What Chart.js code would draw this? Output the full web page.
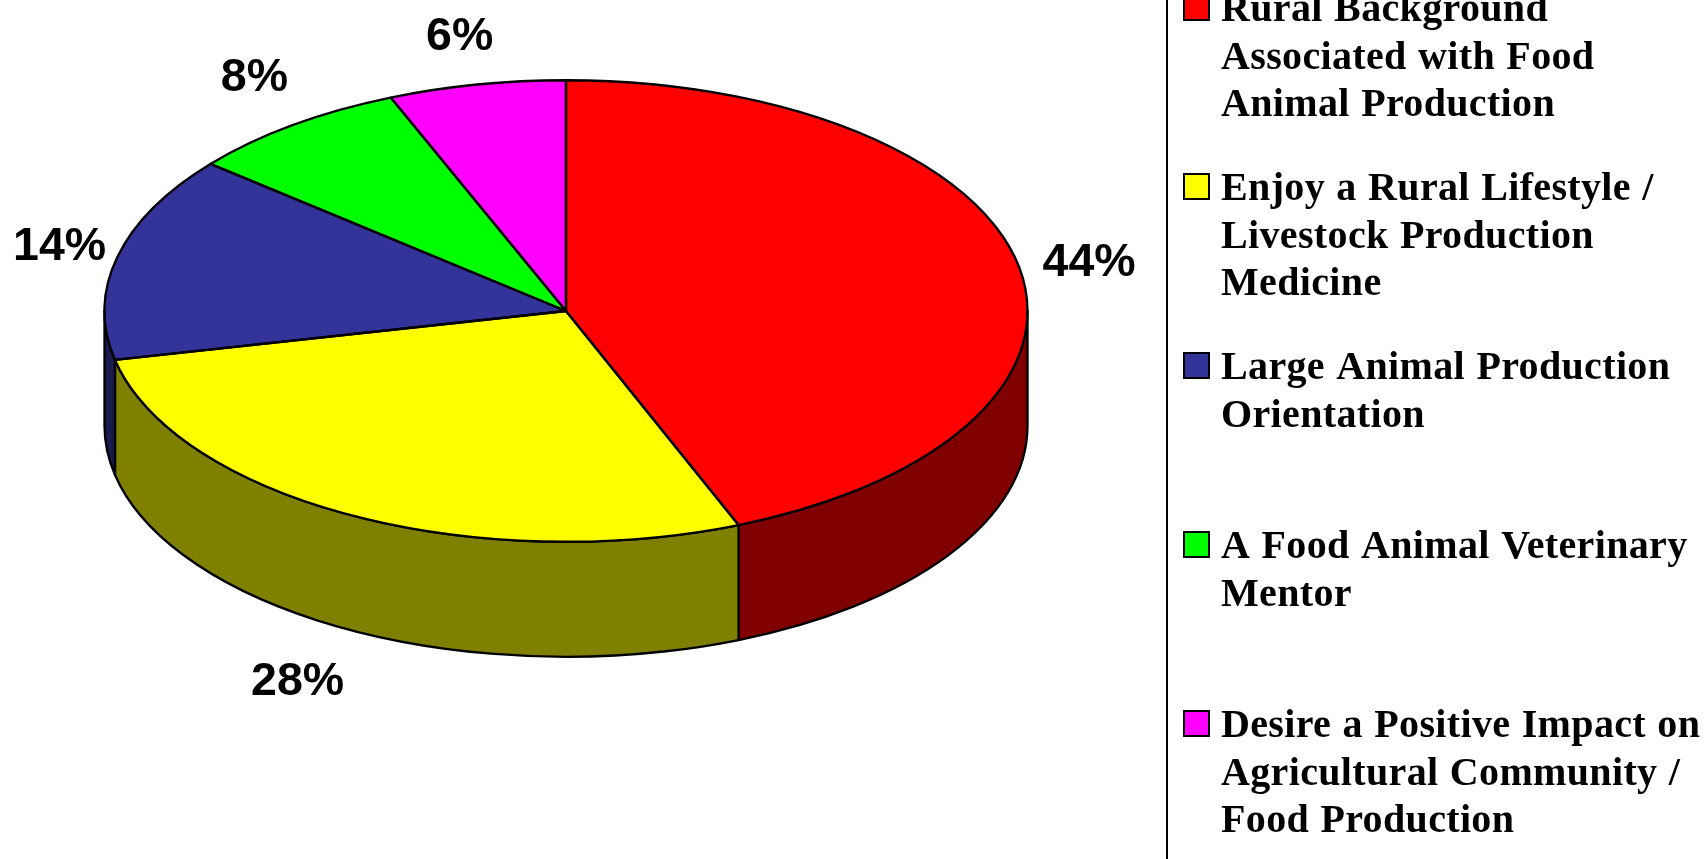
<!DOCTYPE html>
<html><head><meta charset="utf-8">
<style>html,body{margin:0;padding:0;background:#fff;overflow:hidden}#w{position:absolute;left:0;top:0;width:1707px;height:859px}</style>
<script src="https://cdn.jsdelivr.net/npm/chart.js@4"></script>
</head><body><div id="w"><canvas id="c" width="1707" height="859"></canvas></div>
<script>
const categories=[
 ["Rural Background","Associated with Food","Animal Production"],
 ["Enjoy a Rural Lifestyle /","Livestock Production","Medicine"],
 ["Large Animal Production","Orientation"],
 ["A Food Animal Veterinary","Mentor"],
 ["Desire a Positive Impact on","Agricultural Community /","Food Production"]
];
const values=[43.9,27.7,14.4,7.8,6.2];
const percentLabels=["44%","28%","14%","8%","6%"];
const topColors=["#FF0000","#FFFF00","#333399","#00FF00","#FF00FF"];
const wallColors=["#800000","#808000","#1A1A4D","#008000","#800080"];
const labelOffsets=[[70,-4],[-52.5,167],[-58,-9],[-38,-47],[-17,-47]];
const TILT=0.5, DEPTH=115, STROKE=2.3;

const pie3d={
 id:'pie3d',
 beforeDatasetsDraw(chart){
  const ctx=chart.ctx, arcs=chart.getDatasetMeta(0).data;
  const {x:cx,y:cy,outerRadius:r}=arcs[0], ry=r*TILT;
  ctx.save(); ctx.lineWidth=STROKE; ctx.strokeStyle='#000'; ctx.lineJoin='round';
  arcs.forEach((a,i)=>{
    let s=Math.max(a.startAngle,0), e=Math.min(a.endAngle,Math.PI);
    if(e<=s) return;
    ctx.beginPath();
    ctx.ellipse(cx,cy,r,ry,0,s,e);
    ctx.ellipse(cx,cy+DEPTH,r,ry,0,e,s,true);
    ctx.closePath();
    ctx.fillStyle=wallColors[i]; ctx.fill(); ctx.stroke();
  });
  ctx.restore();
  ctx.save();
  ctx.translate(cx,cy); ctx.scale(1,TILT); ctx.translate(-cx,-cy);
 },
 afterDatasetsDraw(chart){
  const ctx=chart.ctx; ctx.restore();
  const arcs=chart.getDatasetMeta(0).data;
  const {x:cx,y:cy,outerRadius:r}=arcs[0], ry=r*TILT;
  ctx.save(); ctx.lineWidth=STROKE; ctx.strokeStyle='#000'; ctx.lineJoin='round';
  arcs.forEach(a=>{
    ctx.beginPath(); ctx.moveTo(cx,cy);
    ctx.ellipse(cx,cy,r,ry,0,a.startAngle,a.endAngle);
    ctx.closePath(); ctx.stroke();
  });
  ctx.font='bold 46.5px "Liberation Sans"'; ctx.fillStyle='#000';
  ctx.textAlign='center'; ctx.textBaseline='middle';
  arcs.forEach((a,i)=>{
    const m=(a.startAngle+a.endAngle)/2;
    ctx.fillText(percentLabels[i],cx+r*Math.cos(m)+labelOffsets[i][0],cy+ry*Math.sin(m)+labelOffsets[i][1]);
  });
  ctx.restore();
 },
 afterDraw(chart){
  const ctx=chart.ctx, o=chart.options.plugins.pie3d;
  ctx.save();
  ctx.fillStyle='#000'; ctx.fillRect(o.ruleX-1,0,2,chart.height);
  ctx.textAlign='left'; ctx.textBaseline='alphabetic';
  ctx.font='bold 40px "Liberation Serif"'; ctx.letterSpacing='0.35px'; ctx.wordSpacing='1px';
  categories.forEach((lines,i)=>{
    const y0=o.legendTop+i*o.itemGap;
    ctx.fillStyle=topColors[i]; ctx.strokeStyle='#000'; ctx.lineWidth=2;
    ctx.fillRect(o.swatchX,y0-26,25,25); ctx.strokeRect(o.swatchX,y0-26,25,25);
    ctx.fillStyle='#000';
    lines.forEach((t,k)=>ctx.fillText(t,o.textX,y0+k*o.lineGap));
  });
  ctx.restore();
 }
};

new Chart(document.getElementById('c'),{
 type:'pie',
 data:{labels:categories.map(l=>l.join(' ')),datasets:[{data:values,backgroundColor:topColors,borderWidth:0,clip:false,radius:461.5}]},
 options:{
  responsive:false,animation:false,rotation:0,
  layout:{padding:{left:0,top:0,right:575,bottom:237}},
  plugins:{legend:{display:false},tooltip:{enabled:false},
   pie3d:{ruleX:1167,legendTop:21,itemGap:179,lineGap:47.7,swatchX:1184,textX:1221}}
 },
 plugins:[pie3d]
});
</script></body></html>
